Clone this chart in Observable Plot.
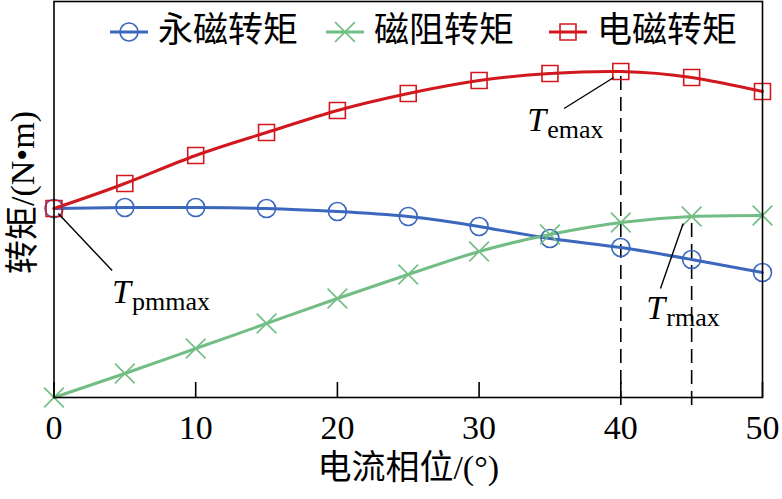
<!DOCTYPE html>
<html><head><meta charset="utf-8">
<script src="https://cdn.jsdelivr.net/npm/d3@7"></script>
<script src="https://cdn.jsdelivr.net/npm/@observablehq/plot@0.6"></script>
<style>body{margin:0;background:#fff} #chart{width:782px;height:499px}</style>
</head><body><div id="chart"></div>
<script>
const phase = [0,5,10,15,20,25,30,35,40,45,50];
const pmTorque = [189,190,190,189,186,181,171,159,150,138,125];
const relTorque = [0,24,49,74,99,123,146,163,175,181,182];
const emTorque = [189,214,242,265,287,304,317,324,326,320,306];
const seriesNames = ["永磁转矩","磁阻转矩","电磁转矩"];
const seriesColors = ["#3b67bd","#72bd83","#d0181e"];
const seriesSymbols = ["circle","times","square"];
const xTicks = [0,10,20,30,40,50];
const xLabel = "电流相位/(°)";
const yLabel = "转矩/(N•m)";
const annoNames = ["pmmax","emax","rmax"];
const annoPoint = [[0.3,184],[39.5,320],[44.4,174]];
const annoEnd = [[4.1,127],[36.0,289],[42.8,109]];
const annoText = [[4.1,95],[33.4,267],[41.8,79]];
const peakX = [40,45];
const peakY = [326,182];

const seriesValues = [pmTorque, relTorque, emTorque];
const rows = [];
seriesNames.forEach((s,i)=>phase.forEach((p,j)=>rows.push({phase:p, value:seriesValues[i][j], series:s})));
const annos = annoNames.map((n,i)=>({name:n, x1:annoPoint[i][0], y1:annoPoint[i][1], x2:annoEnd[i][0], y2:annoEnd[i][1], tx:annoText[i][0], ty:annoText[i][1]}));
const peaks = peakX.map((x,i)=>({x, y:peakY[i]}));

const FONT = "'Liberation Serif','Noto Sans CJK SC',serif";
const plot = Plot.plot({
  width:782, height:499,
  marginLeft:53.5, marginRight:20, marginTop:1, marginBottom:102,
  x:{domain:[0,50], axis:null},
  y:{domain:[0,396], axis:null},
  color:{domain:seriesNames, range:seriesColors},
  symbol:{domain:seriesNames, range:seriesSymbols},
  style:{fontFamily:FONT, background:"#fff", color:"black"},
  marks:[
    Plot.ruleX(xTicks, {x:d=>d, stroke:"black", strokeWidth:1.6, insetTop:381}),
    Plot.ruleX(peaks, {x:"x", y1:0, y2:"y", stroke:"black", strokeWidth:1.6, strokeDasharray:"14,7", insetTop:8}),
    Plot.line(rows, {x:"phase", y:"value", stroke:"series", z:"series", curve:"natural", strokeWidth:3}),
    Plot.dot(rows, {x:"phase", y:"value", stroke:"series", symbol:"series", r:9, strokeWidth:1.6, fill:"none"}),
    Plot.link(annos, {x1:"x1", y1:"y1", x2:"x2", y2:"y2", stroke:"black", strokeWidth:1.4}),
    Plot.text(annos, {x:"tx", y:"ty", text:()=>"T", fontStyle:"italic", fontSize:34, textAnchor:"start", lineAnchor:"bottom", fill:"black"}),
    Plot.text(annos, {x:"tx", y:"ty", text:"name", fontSize:26, textAnchor:"start", lineAnchor:"bottom", dx:20, dy:7, fill:"black"}),
    Plot.text(xTicks, {x:d=>d, text:d=>String(d), frameAnchor:"bottom", lineAnchor:"bottom", dy:41, fontSize:34, fill:"black"}),
    Plot.text([xLabel], {text:d=>d, frameAnchor:"bottom", lineAnchor:"middle", dy:71, fontSize:34, fill:"black"}),
    Plot.text([yLabel], {text:d=>d, frameAnchor:"left", textAnchor:"middle", rotate:-90, dx:-31, dy:-7, lineAnchor:"middle", fontSize:34, fill:"black"}),
    Plot.frame({stroke:"black", strokeWidth:1.6})
  ]
});
document.getElementById("chart").appendChild(plot);

// legend inside the plot area
const svg = d3.select(plot);
const legendTextX = [158, 374, 597];
const lg = svg.append("g").attr("font-family", FONT).attr("font-size", 35).attr("text-anchor","start");
seriesNames.forEach((name,i)=>{
  const tx = legendTextX[i], lx = tx - 48, cy = 32;
  lg.append("line").attr("x1", lx).attr("x2", lx+38).attr("y1", cy).attr("y2", cy)
    .attr("stroke", seriesColors[i]).attr("stroke-width", 3);
  const sym = {circle:d3.symbolCircle, times:d3.symbolTimes, square:d3.symbolSquare}[seriesSymbols[i]];
  lg.append("path").attr("d", d3.symbol(sym, Math.PI*81)()).attr("transform", `translate(${lx+19},${cy})`)
    .attr("fill","none").attr("stroke", seriesColors[i]).attr("stroke-width", 1.6);
  lg.append("text").attr("x", tx).attr("y", 30).attr("dominant-baseline","central")
    .attr("text-anchor","start").style("font-size","35px").attr("fill","black").text(name);
});
</script>
</body></html>
